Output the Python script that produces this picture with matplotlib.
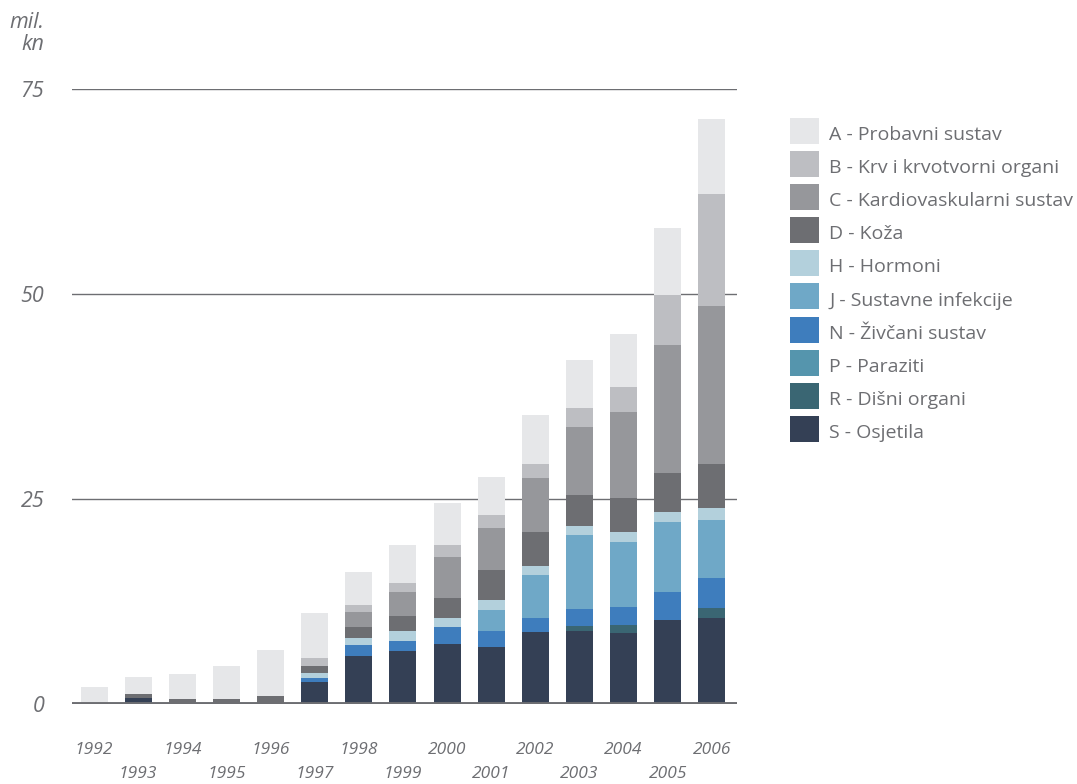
import matplotlib
matplotlib.use("Agg")
import matplotlib.pyplot as plt
from matplotlib.patches import Rectangle
import numpy as np

plt.rcParams["font.family"] = ["Open Sans", "DejaVu Sans"]

years = list(range(1992, 2007))

# stacked from the bottom up: S, R, P, N, J, H, D, C, B, A (mil. kn)
S = [0.0, 0.7, 0.0, 0.0, 0.0, 2.7, 5.85, 6.46, 7.3, 6.95, 8.8, 8.9, 8.66, 10.24, 10.5]
R = [0.0, 0.0, 0.0, 0.0, 0.0, 0.0, 0.0, 0.0, 0.0, 0.0, 0.0, 0.6, 0.95, 0.0, 1.2]
P = [0.0] * 15
N = [0.0, 0.0, 0.0, 0.0, 0.0, 0.5, 1.35, 1.22, 2.1, 1.95, 1.7, 2.1, 2.2, 3.4, 3.7]
J = [0.0, 0.0, 0.0, 0.0, 0.0, 0.0, 0.0, 0.0, 0.0, 2.6, 5.2, 9.0, 7.95, 8.5, 7.0]
H = [0.0, 0.0, 0.0, 0.0, 0.0, 0.6, 0.85, 1.22, 1.1, 1.2, 1.1, 1.1, 1.25, 1.3, 1.5]
D = [0.0, 0.5, 0.6, 0.6, 1.0, 0.85, 1.35, 1.83, 2.4, 3.6, 4.2, 3.8, 4.1, 4.7, 5.4]
C = [0.0, 0.0, 0.0, 0.0, 0.0, 0.0, 1.8, 2.93, 5.0, 5.2, 6.6, 8.3, 10.5, 15.7, 19.2]
B = [0.0, 0.0, 0.0, 0.0, 0.0, 0.97, 0.85, 1.1, 1.5, 1.5, 1.7, 2.3, 3.05, 6.0, 13.7]
A = [2.05, 2.1, 3.0, 4.0, 5.6, 5.5, 4.1, 4.64, 5.1, 4.7, 5.9, 5.85, 6.45, 8.15, 9.1]

series = [
    ("S - Osjetila", S, "#344055"),
    ("R - Dišni organi", R, "#3a6673"),
    ("P - Paraziti", P, "#5595ad"),
    ("N - Živčani sustav", N, "#3e7dbd"),
    ("J - Sustavne infekcije", J, "#6fa8c7"),
    ("H - Hormoni", H, "#b3d0dc"),
    ("D - Koža", D, "#6d6e72"),
    ("C - Kardiovaskularni sustav", C, "#96979b"),
    ("B - Krv i krvotvorni organi", B, "#bdbec2"),
    ("A - Probavni sustav", A, "#e6e7e9"),
]

TXT = "#6d6e72"

fig = plt.figure(figsize=(10.77, 7.84), dpi=100)
ax = fig.add_axes([72 / 1077, 1 - 704 / 784, (737 - 72) / 1077, (704 - 89) / 784])

x = np.arange(len(years))
bottom = np.zeros(len(years))
for name, vals, col in series:
    vals = np.array(vals)
    ax.bar(x, vals, width=0.61, bottom=bottom, color=col, linewidth=0, zorder=2)
    bottom += vals

ax.set_xlim(-0.5, len(years) - 0.43)
ax.set_ylim(0, 75)
ax.set_yticks([0, 25, 50, 75])
ax.set_yticklabels(["0", "25", "50", "75"], fontsize=15.5, style="italic", color=TXT)
ax.tick_params(axis="y", length=0, pad=20)
ax.set_xticks([])
ax.yaxis.grid(True, color=TXT, linewidth=1.0, zorder=0)
for s in ax.spines.values():
    s.set_visible(False)
ax.axhline(0, color=TXT, linewidth=2.8, zorder=3)

# year labels, alternating rows
for i, yr in enumerate(years):
    yy = -0.0745 if i % 2 == 0 else -0.1135
    ax.text(i, yy, str(yr), transform=ax.get_xaxis_transform(), ha="center",
            va="center", fontsize=12.5, style="italic", color=TXT)

fig.text(44 / 1077, 1 - 22 / 784, "mil.", ha="right", va="center",
         fontsize=15.5, style="italic", color=TXT)
fig.text(44 / 1077, 1 - 44 / 784, "kn", ha="right", va="center",
         fontsize=15.5, style="italic", color=TXT)

# legend, top entry first
for k, (name, vals, col) in enumerate(reversed(series)):
    top = 118 + k * 33.1
    fig.patches.append(Rectangle((790 / 1077, 1 - (top + 26) / 784), 29 / 1077, 26 / 784,
                                 transform=fig.transFigure, color=col, linewidth=0))
    fig.text(829 / 1077, 1 - (top + 17) / 784, name, ha="left", va="center",
             fontsize=14, color=TXT)

fig.savefig("out.png", dpi=100)
